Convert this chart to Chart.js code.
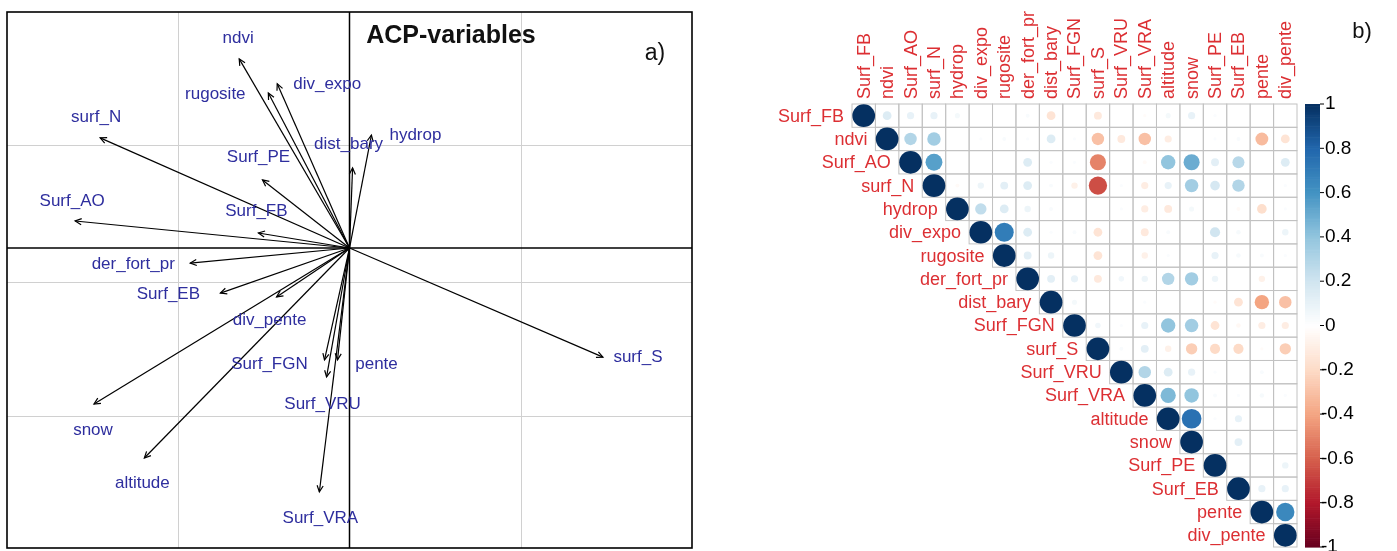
<!DOCTYPE html>
<html>
<head>
<meta charset="utf-8">
<script src="https://cdn.jsdelivr.net/npm/chart.js@4.4.0/dist/chart.umd.min.js"></script>
<style>
html, body { margin: 0; padding: 0; background: #fff; width: 1397px; height: 551px; overflow: hidden; }
#pca { position: absolute; left: 0; top: 0; width: 700px; height: 551px; }
#corr { position: absolute; left: 740px; top: 0; width: 657px; height: 551px; }
</style>
</head>
<body>
<div id="pca"><canvas id="pcaChart"></canvas></div>
<div id="corr"><canvas id="corrChart"></canvas></div>
<script>
// ---- a) PCA variable coordinates (Dim 1 / Dim 2) ----
const pcaVars = ['ndvi', 'div_expo', 'rugosite', 'surf_N', 'Surf_PE', 'Surf_AO', 'Surf_FB', 'der_fort_pr',
    'hydrop', 'dist_bary', 'Surf_EB', 'div_pente', 'snow', 'altitude', 'Surf_VRA', 'Surf_FGN', 'Surf_VRU', 'pente', 'surf_S'];
const dim1 = [-0.322, -0.211, -0.237, -0.728, -0.254, -0.801, -0.266, -0.465,
    0.064, 0.009, -0.377, -0.213, -0.746, -0.599, -0.088, -0.073, -0.067, -0.035, 0.740];
const dim2 = [0.553, 0.480, 0.453, 0.322, 0.199, 0.079, 0.044, -0.044,
    0.330, 0.234, -0.132, -0.143, -0.456, -0.614, -0.713, -0.327, -0.377, -0.327, -0.319];
const gridDim1 = [-0.5, 0.5];
const gridDim2 = [0.3, -0.1, -0.49];

// ---- b) correlation matrix, upper triangle (row i, columns i..18) ----
const corrVars = ['Surf_FB', 'ndvi', 'Surf_AO', 'surf_N', 'hydrop', 'div_expo', 'rugosite', 'der_fort_pr', 'dist_bary',
    'Surf_FGN', 'surf_S', 'Surf_VRU', 'Surf_VRA', 'altitude', 'snow', 'Surf_PE', 'Surf_EB', 'pente', 'div_pente'];
const corrUpper = [
    [1, 0.15, 0.1, 0.1, 0.05, 0, 0, 0.03, -0.15, 0, -0.12, 0, -0.02, 0.05, 0.1, 0.02, 0, 0, 0],
    [1, 0.3, 0.35, 0, 0.02, 0.03, 0.02, 0.15, 0.02, -0.3, -0.12, -0.3, -0.1, 0, 0.02, 0.03, -0.32, -0.15],
    [1, 0.55, 0, 0, 0, 0.15, 0.02, 0.02, -0.5, 0, -0.03, 0.4, 0.5, 0.12, 0.28, 0, 0.15],
    [1, -0.03, 0.08, 0.12, 0.15, 0.03, -0.08, -0.65, 0.02, -0.1, 0.1, 0.35, 0.18, 0.3, 0, 0.02],
    [1, 0.25, 0.15, 0.08, 0.03, 0, 0, 0.02, -0.1, -0.12, 0.05, 0, -0.03, -0.18, 0.02],
    [1, 0.7, 0.15, 0.02, 0.03, -0.15, 0, -0.12, 0.03, 0, 0.2, 0.04, 0, 0.08],
    [1, 0.12, 0.08, 0, -0.15, 0, -0.08, 0.02, 0, 0.1, 0.04, 0.03, 0.02],
    [1, 0.12, 0.1, -0.12, 0.06, 0.08, 0.3, 0.35, 0.08, 0, -0.08, 0],
    [1, 0.05, 0, 0, 0.02, 0, 0, -0.02, -0.15, -0.4, -0.3],
    [1, 0.06, 0.02, 0.1, 0.4, 0.35, -0.15, -0.04, -0.1, -0.1],
    [1, 0.03, 0.12, -0.08, -0.25, -0.2, -0.2, -0.02, -0.25],
    [1, 0.3, 0.15, 0.1, 0.02, 0, 0.03, 0],
    [1, 0.45, 0.4, 0.03, 0.02, 0.04, 0.02],
    [1, 0.75, 0.02, 0.1, 0, 0],
    [1, 0, 0.12, 0, 0],
    [1, 0, 0, 0.08],
    [1, 0.1, 0.1],
    [1, 0.65],
    [1]
];
const legendTicks = [1, 0.8, 0.6, 0.4, 0.2, 0, -0.2, -0.4, -0.6, -0.8, -1];

// label offsets from arrow tips, in pixels
const labelNudge = {
    ndvi: [-1, -21], div_expo: [50, 0], rugosite: [-53, 1], surf_N: [-4, -21], Surf_PE: [-4, -23],
    Surf_AO: [-3, -20], Surf_FB: [-2, -22], der_fort_pr: [-57, 1], hydrop: [44, 0], dist_bary: [-4, -24],
    Surf_EB: [-52, 1], div_pente: [-7, 23], snow: [-1, 26], altitude: [-2, 25], Surf_VRA: [1, 26],
    Surf_FGN: [-55, 4], Surf_VRU: [-4, 27], pente: [39, 4], surf_S: [35, 0]
};

const FONT = '"Liberation Sans", Arial, sans-serif';

// ---------- left panel ----------
const pcaPlugin = {
    id: 'pcaDecor',
    beforeDatasetsDraw(chart) {
        const { ctx, chartArea: a, scales: { x, y } } = chart;
        ctx.save();
        ctx.strokeStyle = '#d0d0d0';
        ctx.lineWidth = 1;
        gridDim1.forEach(v => {
            const px = Math.round(x.getPixelForValue(v)) + 0.5;
            ctx.beginPath(); ctx.moveTo(px, a.top); ctx.lineTo(px, a.bottom); ctx.stroke();
        });
        gridDim2.forEach(v => {
            const py = Math.round(y.getPixelForValue(v)) + 0.5;
            ctx.beginPath(); ctx.moveTo(a.left, py); ctx.lineTo(a.right, py); ctx.stroke();
        });
        ctx.strokeStyle = '#000';
        ctx.lineWidth = 1.5;
        const x0 = x.getPixelForValue(0), y0 = y.getPixelForValue(0);
        ctx.beginPath(); ctx.moveTo(x0, a.top); ctx.lineTo(x0, a.bottom); ctx.stroke();
        ctx.beginPath(); ctx.moveTo(a.left, y0); ctx.lineTo(a.right, y0); ctx.stroke();
        ctx.restore();
    },
    afterDatasetsDraw(chart) {
        const { ctx, chartArea: a } = chart;
        ctx.save();
        ctx.strokeStyle = '#000';
        ctx.lineWidth = 1.2;
        chart.data.datasets.forEach((ds, i) => {
            const pts = chart.getDatasetMeta(i).data;
            const p0 = pts[0], p1 = pts[1];
            const ang = Math.atan2(p1.y - p0.y, p1.x - p0.x);
            const L = 7, spread = 0.45;
            ctx.beginPath();
            ctx.moveTo(p1.x - L * Math.cos(ang - spread), p1.y - L * Math.sin(ang - spread));
            ctx.lineTo(p1.x, p1.y);
            ctx.lineTo(p1.x - L * Math.cos(ang + spread), p1.y - L * Math.sin(ang + spread));
            ctx.stroke();
        });
        // variable labels
        ctx.fillStyle = '#2e2e9e';
        ctx.font = '17px ' + FONT;
        ctx.textAlign = 'center';
        ctx.textBaseline = 'middle';
        chart.data.datasets.forEach((ds, i) => {
            const p1 = chart.getDatasetMeta(i).data[1];
            const n = labelNudge[ds.label] || [0, -18];
            ctx.fillText(ds.label, p1.x + n[0], p1.y + n[1]);
        });
        // frame
        ctx.strokeStyle = '#000';
        ctx.lineWidth = 1.6;
        ctx.strokeRect(a.left, a.top, a.right - a.left, a.bottom - a.top);
        // titles
        ctx.fillStyle = '#111';
        ctx.font = 'bold 25px ' + FONT;
        ctx.fillText('ACP-variables', 451, 36);
        ctx.font = '23px ' + FONT;
        ctx.fillText('a)', 655, 54);
        ctx.restore();
    }
};

new Chart(document.getElementById('pcaChart'), {
    type: 'scatter',
    data: {
        datasets: pcaVars.map((name, i) => ({
            label: name,
            data: [{ x: 0, y: 0 }, { x: dim1[i], y: dim2[i] }],
            showLine: true,
            borderColor: '#000',
            borderWidth: 1.2,
            pointRadius: 0
        }))
    },
    options: {
        responsive: true,
        maintainAspectRatio: false,
        animation: false,
        events: [],
        layout: { padding: { left: 7, right: 8, top: 12, bottom: 3 } },
        scales: {
            x: { type: 'linear', display: false, min: -1, max: 1 },
            y: { type: 'linear', display: false, min: -0.877, max: 0.69 }
        },
        plugins: { legend: { display: false }, tooltip: { enabled: false } }
    },
    plugins: [pcaPlugin]
});

// ---------- right panel ----------
const rdbu = ['#67001F', '#B2182B', '#D6604D', '#F4A582', '#FDDBC7', '#FFFFFF',
    '#D1E5F0', '#92C5DE', '#4393C3', '#2166AC', '#053061'];
function hexRgb(h) { return [1, 3, 5].map(k => parseInt(h.substr(k, 2), 16)); }
function corrColor(v) {
    const t = Math.max(0, Math.min(10, (v + 1) / 2 * 10));
    const k = Math.min(9, Math.floor(t)), f = t - k;
    const c0 = hexRgb(rdbu[k]), c1 = hexRgb(rdbu[k + 1]);
    const c = c0.map((c, n) => Math.round(c + (c1[n] - c) * f));
    return 'rgb(' + c.join(',') + ')';
}

const corrPoints = [];
corrUpper.forEach((row, i) => {
    row.forEach((v, k) => corrPoints.push({ x: i + k, y: i, v: v }));
});

function cellSize(chart) {
    const x = chart.scales.x;
    return Math.abs(x.getPixelForValue(1) - x.getPixelForValue(0));
}

const corrPlugin = {
    id: 'corrDecor',
    beforeDatasetsDraw(chart) {
        const { ctx, scales: { x, y } } = chart;
        const n = corrVars.length;
        ctx.save();
        ctx.strokeStyle = '#c2c2c2';
        ctx.lineWidth = 1;
        for (let i = 0; i < n; i++) {
            for (let j = i; j < n; j++) {
                const l = x.getPixelForValue(j - 0.5), r = x.getPixelForValue(j + 0.5);
                const t = y.getPixelForValue(i - 0.5), b = y.getPixelForValue(i + 0.5);
                ctx.strokeRect(l, t, r - l, b - t);
            }
        }
        ctx.restore();
    },
    afterDraw(chart) {
        const { ctx, chartArea: a, scales: { x, y } } = chart;
        ctx.save();
        ctx.fillStyle = '#dc2f33';
        ctx.font = '18px ' + FONT;
        // row labels
        ctx.textAlign = 'right';
        ctx.textBaseline = 'middle';
        corrVars.forEach((name, i) => {
            ctx.fillText(name, x.getPixelForValue(i - 0.5) - 8, y.getPixelForValue(i) + 1);
        });
        // column labels
        ctx.textAlign = 'left';
        corrVars.forEach((name, j) => {
            ctx.save();
            ctx.translate(x.getPixelForValue(j) + 1, a.top - 5);
            ctx.rotate(-Math.PI / 2);
            ctx.fillText(name, 0, 0);
            ctx.restore();
        });
        // colour legend
        const lx = a.right + 8, lw = 15;
        const top = a.top, bot = a.bottom;
        const steps = 200;
        for (let s = 0; s < steps; s++) {
            const v = -1 + (s + 0.5) * 2 / steps;
            const y1 = bot - (s + 1) * (bot - top) / steps;
            ctx.fillStyle = corrColor(v);
            ctx.fillRect(lx, y1, lw, (bot - top) / steps + 0.6);
        }
        ctx.fillStyle = '#000';
        ctx.strokeStyle = '#000';
        ctx.lineWidth = 1;
        ctx.font = '19px ' + FONT;
        ctx.textAlign = 'left';
        ctx.textBaseline = 'middle';
        legendTicks.forEach(t => {
            const py = bot - (t + 1) / 2 * (bot - top);
            ctx.beginPath(); ctx.moveTo(lx + lw, py); ctx.lineTo(lx + lw + 4, py); ctx.stroke();
            ctx.fillText(String(t), lx + lw + (t < 0 ? 1 : 5), py);
        });
        ctx.font = '22px ' + FONT;
        ctx.fillStyle = '#111';
        ctx.textAlign = 'center';
        ctx.fillText('b)', 622, 32);
        ctx.restore();
    }
};

new Chart(document.getElementById('corrChart'), {
    type: 'scatter',
    data: {
        datasets: [{
            data: corrPoints,
            pointRadius: ctx => Math.sqrt(Math.abs(ctx.raw.v)) * cellSize(ctx.chart) / 2 * 0.97,
            pointBackgroundColor: ctx => corrColor(ctx.raw.v),
            pointBorderWidth: 0,
            pointBorderColor: 'rgba(0,0,0,0)'
        }]
    },
    options: {
        responsive: true,
        maintainAspectRatio: false,
        animation: false,
        events: [],
        layout: { padding: { left: 112, right: 100, top: 104, bottom: 4 } },
        scales: {
            x: { type: 'linear', display: false, min: -0.5, max: 18.5 },
            y: { type: 'linear', display: false, min: -0.5, max: 18.5, reverse: true }
        },
        plugins: { legend: { display: false }, tooltip: { enabled: false } }
    },
    plugins: [corrPlugin]
});
</script>
</body>
</html>
